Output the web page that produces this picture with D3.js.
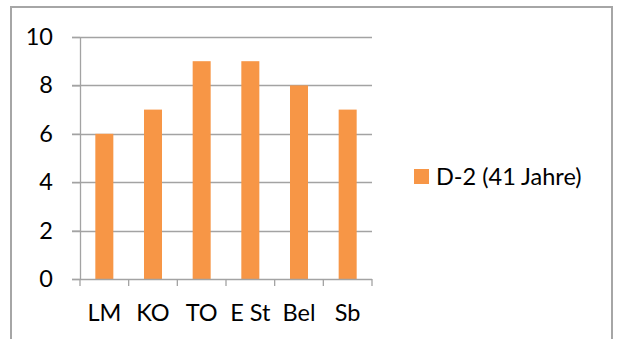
<!DOCTYPE html>
<html>
<head>
<meta charset="utf-8">
<script src="https://cdn.jsdelivr.net/npm/d3@7"></script>
<style>
  html, body { margin: 0; padding: 0; background: #fff; }
  svg { display: block; }
  text { font-family: Lato, "Open Sans", sans-serif; fill: #000; }
</style>
</head>
<body>
<svg id="chart" width="621" height="339"></svg>
<script>
// Scores per category for the single series
const categories = ["LM", "KO", "TO", "E St", "Bel", "Sb"];
const seriesName = "D-2 (41 Jahre)";
const values = [6, 7, 9, 9, 8, 7];
const yTicks = [0, 2, 4, 6, 8, 10];

const W = 621, H = 339;
const svg = d3.select("#chart");
const gridColor = "#a3a3a3";
const barColor = "#f79646";
const fontSize = 23.5;

// chart frame (open at the bottom edge)
svg.append("path")
  .attr("d", `M11,${H} V7 H612 V${H}`)
  .attr("fill", "none")
  .attr("stroke", "#a6a6a6")
  .attr("stroke-width", 2);

const plot = { left: 80, right: 372, top: 37, bottom: 279 };

const x = d3.scaleBand()
  .domain(categories)
  .range([plot.left, plot.right])
  .paddingInner(0.63)
  .paddingOuter(0.315);

const y = d3.scaleLinear()
  .domain([0, 10])
  .range([plot.bottom, plot.top]);

// horizontal gridlines
svg.append("g")
  .selectAll("line")
  .data(yTicks.filter(d => d !== 0))
  .join("line")
  .attr("x1", plot.left - 8)
  .attr("x2", plot.right)
  .attr("y1", d => Math.round(y(d)) + 0.5)
  .attr("y2", d => Math.round(y(d)) + 0.5)
  .attr("stroke", gridColor)
  .attr("stroke-width", 1.3);

// value axis
const yAx = svg.append("g")
  .attr("transform", `translate(${plot.left},0)`)
  .call(d3.axisLeft(y).tickValues(yTicks).tickSize(8).tickPadding(19).tickFormat(d3.format("d")));
yAx.select(".domain").attr("stroke", gridColor).attr("stroke-width", 1.3)
  .attr("d", `M0.5,${plot.top}V${plot.bottom}`);
yAx.selectAll(".tick line").attr("stroke", gridColor).attr("stroke-width", 1.3);
yAx.selectAll(".tick text")
  .attr("font-size", fontSize)
  .attr("font-family", "Lato, 'Open Sans', sans-serif")
  .attr("fill", "#000");

// bars
svg.append("g")
  .selectAll("rect")
  .data(values)
  .join("rect")
  .attr("x", (d, i) => x(categories[i]))
  .attr("width", x.bandwidth())
  .attr("y", d => y(d))
  .attr("height", d => y(0) - y(d))
  .attr("fill", barColor);

// category axis with tick marks at category boundaries
const xAx = svg.append("g")
  .attr("transform", `translate(0,${plot.bottom})`);
xAx.append("line")
  .attr("x1", plot.left - 8).attr("x2", plot.right)
  .attr("y1", 0.5).attr("y2", 0.5)
  .attr("stroke", gridColor).attr("stroke-width", 1.3);
const step = x.step();
const boundaries = d3.range(categories.length + 1).map(i => plot.left + i * step);
xAx.selectAll("line.tick")
  .data(boundaries)
  .join("line")
  .attr("class", "tick")
  .attr("x1", d => d).attr("x2", d => d)
  .attr("y1", 0).attr("y2", 7)
  .attr("stroke", gridColor).attr("stroke-width", 1.3);
xAx.selectAll("text")
  .data(categories)
  .join("text")
  .attr("x", d => x(d) + x.bandwidth() / 2)
  .attr("y", 42)
  .attr("text-anchor", "middle")
  .attr("font-size", fontSize)
  .text(d => d);

// legend
const lg = svg.append("g").attr("transform", "translate(414,169)");
lg.append("rect").attr("width", 15).attr("height", 15).attr("fill", barColor);
lg.append("text")
  .attr("x", 22).attr("y", 15.5)
  .attr("font-size", fontSize)
  .text(seriesName);
</script>
</body>
</html>
